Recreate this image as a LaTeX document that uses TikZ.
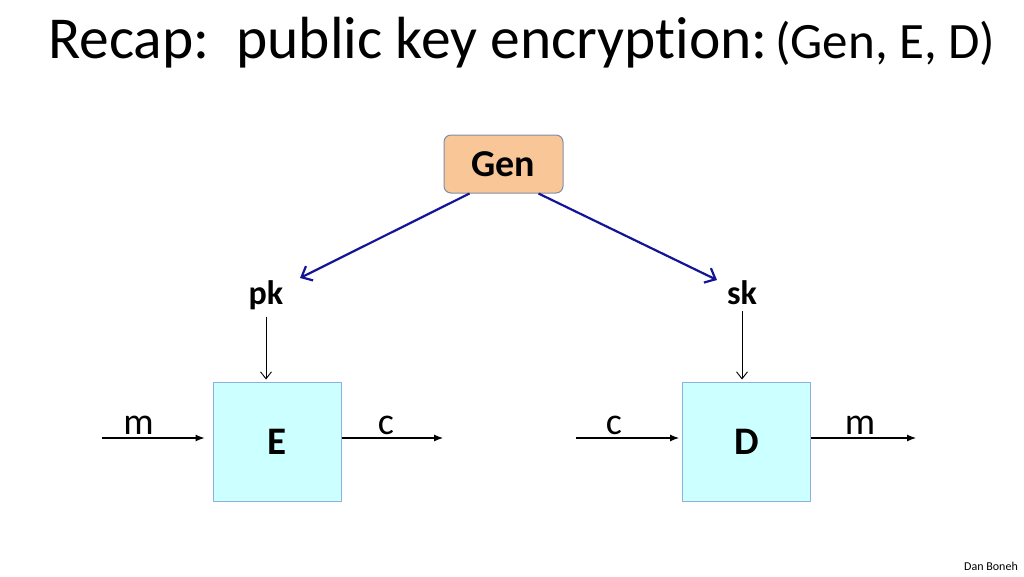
\documentclass[tikz,border=0pt]{standalone}
\usepackage{fontspec}
\setmainfont{Carlito}[Ligatures=NoCommon]
\usetikzlibrary{arrows.meta}
\definecolor{genfill}{RGB}{249,198,152}
\definecolor{genedge}{RGB}{130,140,165}
\definecolor{boxfill}{RGB}{204,255,255}
\definecolor{boxedge}{RGB}{142,176,220}
\definecolor{keyblue}{RGB}{20,20,150}
\tikzset{
  genbox/.style={draw=genedge, fill=genfill, rounded corners=7pt, line width=1pt,
    minimum width=119pt, minimum height=58pt, font=\fontsize{38}{42}\selectfont\bfseries},
  algbox/.style={draw=boxedge, fill=boxfill, line width=1pt,
    minimum width=128pt, minimum height=119pt, font=\fontsize{39}{44}\selectfont\bfseries},
  keylabel/.style={anchor=base, inner sep=0pt, font=\fontsize{34}{38}\selectfont\bfseries},
  msglabel/.style={anchor=base, inner sep=0pt, font=\fontsize{38}{42}\selectfont},
  msgarrow/.style={line width=1.1pt, -{Latex[length=9pt,width=7pt]}},
  keyarrow/.style={line width=0.9pt, -{Straight Barb[length=7pt,width=11pt]}},
  genarrow/.style={keyblue, line width=2.2pt, -{Straight Barb[length=9pt,width=16pt]}}
}
\begin{document}
\begin{tikzpicture}[x=1pt,y=-1pt]
\useasboundingbox (0,0) rectangle (1024,576);
% title
\node[anchor=base west, inner sep=0pt, font=\fontsize{59.5}{70}\selectfont] (title) at (48,58) {Recap:\ \ public key encryption:};
\node[anchor=base west, inner sep=0pt, font=\fontsize{51}{56}\selectfont] (scheme) at (775,58) {(Gen, E, D)};
% key generation
\node[genbox] (gen) at (503.5,164) {Gen};
\node[keylabel] (pk) at (266,304) {pk};
\node[keylabel] (sk) at (742,304) {sk};
\coordinate (pkend) at (300,278);
\coordinate (skend) at (717,280);
\draw[genarrow] ([xshift=-34pt]gen.south) -- (pkend);
\draw[genarrow] ([xshift=35pt]gen.south) -- (skend);
% encryption and decryption
\node[algbox] (E) at (277,441.5) {E};
\node[algbox] (D) at (746.5,441.5) {D};
\draw[keyarrow, shorten >=2pt] ([yshift=-7pt]pk.south) -- (pk.south |- E.north);
\draw[keyarrow, shorten >=2pt] ([yshift=-7pt]sk.south) -- (sk.south |- D.north);
\coordinate (min) at (102,438);
\coordinate (cout) at (443,438);
\coordinate (cin) at (576,438);
\coordinate (mout) at (916,438);
\draw[msgarrow, shorten >=8pt] (min) -- (E.west|-min);
\draw[msgarrow] (E.east|-cout) -- (cout);
\draw[msgarrow, shorten >=3pt] (cin) -- (D.west|-cin);
\draw[msgarrow] (D.east|-mout) -- (mout);
\node[msglabel] (mE) at (138.5,434) {m};
\node[msglabel] (cE) at (386,434) {c};
\node[msglabel] (cD) at (614,434) {c};
\node[msglabel] (mD) at (860,434) {m};
\node[anchor=base east, inner sep=0pt, font=\fontsize{12}{13}\selectfont] (author) at (1018,570) {Dan Boneh};
\end{tikzpicture}
\end{document}
